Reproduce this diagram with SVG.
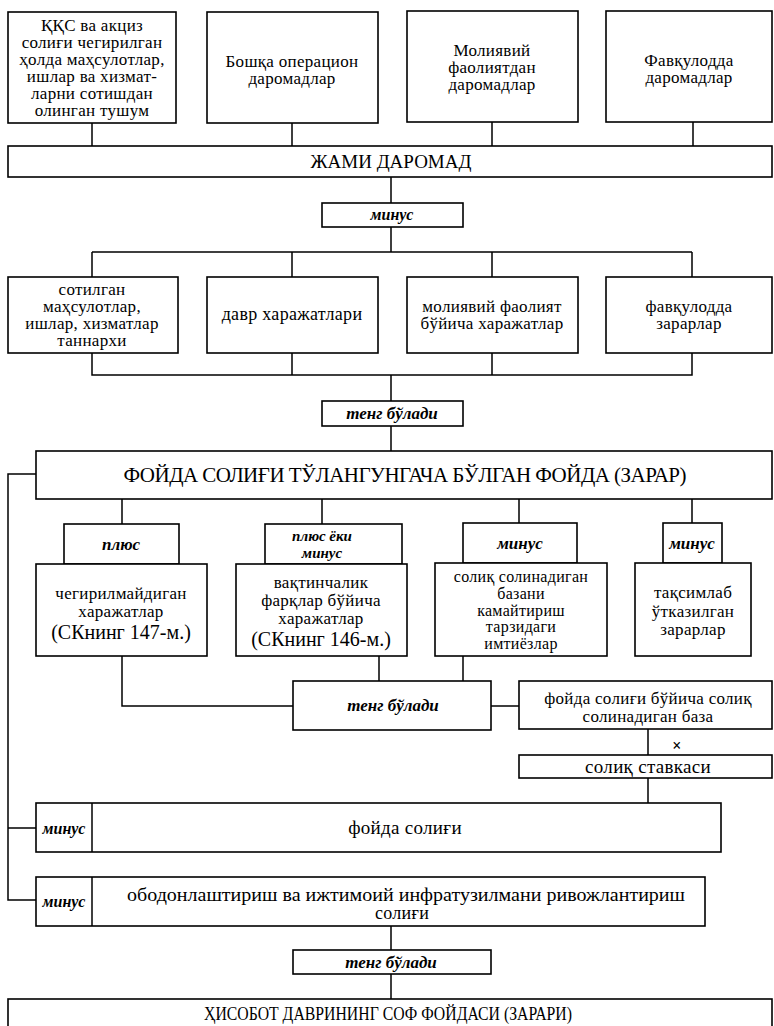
<svg xmlns="http://www.w3.org/2000/svg" width="774" height="1026" viewBox="0 0 774 1026">
<style>
.box{fill:#fff;stroke:#000;stroke-width:1.6}
.ln{fill:none;stroke:#000;stroke-width:1.5}
text{font-family:"Liberation Serif","Times New Roman",serif;font-size:17px;text-anchor:middle;fill:#000;letter-spacing:0.3px}
.cap{font-size:19px;letter-spacing:0}
.it{font-style:italic;font-weight:bold;font-size:16px;letter-spacing:0}
.tg{font-style:italic;font-weight:bold;font-size:17px;letter-spacing:0}
.sm{font-size:16px}
.sk{font-size:20px;letter-spacing:0}
.b{font-weight:bold}
</style>
<rect width="774" height="1026" fill="#fff"/>
<g id="connectors">
<path class="ln" d="M92 123V146M292 123V146M492 122V146M693 122V146"/>
<path class="ln" d="M391 177V203M391 227V252M92 252H692M92 252V277M292 252V277M492 252V277M692 252V277"/>
<path class="ln" d="M92 353V375H692V353M292 353V375M492 353V375M391 375V401M391 426V451"/>
<path class="ln" d="M36 474H8V900H36M8 828H36"/>
<path class="ln" d="M122 499V524M322 499V524M519 499V523M692 499V523"/>
<path class="ln" d="M122 656V706H293M379 656V681M463 656V681M491 706H519"/>
<path class="ln" d="M648 729V755M648 778V803"/>
<path class="ln" d="M391 926V950M391 974V999"/>
</g>
<g id="n-kks"><rect class="box" x="8" y="12" width="168" height="111"/>
<text x="92" y="31">ҚҚС ва акциз</text><text x="92" y="48">солиғи чегирилган</text><text x="92" y="65">ҳолда маҳсулотлар,</text><text x="92" y="82">ишлар ва хизмат-</text><text x="92" y="99">ларни сотишдан</text><text x="92" y="116">олинган тушум</text></g>
<g id="n-boshqa"><rect class="box" x="207" y="12" width="171" height="111"/>
<text x="292" y="67">Бошқа операцион</text><text x="292" y="84">даромадлар</text></g>
<g id="n-moliya"><rect class="box" x="407" y="11" width="171" height="111"/>
<text x="492" y="56">Молиявий</text><text x="492" y="73">фаолиятдан</text><text x="492" y="90">даромадлар</text></g>
<g id="n-favq"><rect class="box" x="606" y="11" width="166" height="111"/>
<text x="689" y="66">Фавқулодда</text><text x="689" y="83">даромадлар</text></g>
<g id="n-jami"><rect class="box" x="8" y="146" width="764" height="31"/>
<text class="cap" x="391" y="168">ЖАМИ ДАРОМАД</text></g>
<g id="n-minus1"><rect class="box" x="322" y="203" width="141" height="24"/>
<text class="it" x="392" y="220">минус</text></g>
<g id="n-tannarx"><rect class="box" x="8" y="277" width="170" height="76"/>
<text x="92" y="295">сотилган</text><text x="92" y="312">маҳсулотлар,</text><text x="92" y="329">ишлар, хизматлар</text><text x="92" y="346">таннархи</text></g>
<g id="n-davr"><rect class="box" x="207" y="277" width="171" height="76"/>
<text x="292" y="320" style="font-size:18px">давр харажатлари</text></g>
<g id="n-molxar"><rect class="box" x="407" y="277" width="171" height="76"/>
<text x="492" y="312">молиявий фаолият</text><text x="492" y="329">бўйича харажатлар</text></g>
<g id="n-favqzar"><rect class="box" x="606" y="277" width="166" height="76"/>
<text x="689" y="312">фавқулодда</text><text x="689" y="329">зарарлар</text></g>
<g id="n-teng1"><rect class="box" x="322" y="401" width="141" height="25"/>
<text class="tg" x="392" y="419">тенг бўлади</text></g>
<g id="n-foyda"><rect class="box" x="36" y="451" width="736" height="48"/>
<text class="cap" x="405" y="482" style="font-size:21px" textLength="563" lengthAdjust="spacing">ФОЙДА СОЛИҒИ ТЎЛАНГУНГАЧА БЎЛГАН ФОЙДА (ЗАРАР)</text></g>
<g id="n-plus"><rect class="box" x="64" y="524" width="115" height="40"/>
<text class="tg" x="121" y="550">плюс</text></g>
<g id="n-plusminus"><rect class="box" x="265" y="524" width="137" height="40"/>
<text class="it" x="322" y="541" style="font-size:15px">плюс ёки</text><text class="it" x="322" y="558" style="font-size:15px">минус</text></g>
<g id="n-minus3"><rect class="box" x="463" y="523" width="114" height="40"/>
<text class="tg" x="520" y="549">минус</text></g>
<g id="n-minus4"><rect class="box" x="663" y="523" width="59" height="40"/>
<text class="tg" x="692" y="549">минус</text></g>
<g id="n-chegir"><rect class="box" x="36" y="564" width="171" height="92"/>
<text x="121" y="599">чегирилмайдиган</text><text x="121" y="617">харажатлар</text><text class="sk" x="121" y="639">(СКнинг 147-м.)</text></g>
<g id="n-vaqt"><rect class="box" x="236" y="564" width="171" height="92"/>
<text x="321" y="588">вақтинчалик</text><text x="321" y="606">фарқлар бўйича</text><text x="321" y="624">харажатлар</text><text class="sk" x="321" y="646">(СКнинг 146-м.)</text></g>
<g id="n-soliq"><rect class="box" x="435" y="563" width="172" height="93"/>
<text class="sm" x="521" y="582">солиқ солинадиган</text><text class="sm" x="521" y="599">базани</text><text class="sm" x="521" y="615.5">камайтириш</text><text class="sm" x="521" y="632">тарзидаги</text><text class="sm" x="521" y="649">имтиёзлар</text></g>
<g id="n-taqsim"><rect class="box" x="635" y="563" width="116" height="93"/>
<text x="693" y="598">тақсимлаб</text><text x="693" y="617">ўтказилган</text><text x="693" y="635">зарарлар</text></g>
<g id="n-teng2"><rect class="box" x="293" y="681" width="198" height="49"/>
<text class="tg" x="393" y="711">тенг бўлади</text></g>
<g id="n-baza"><rect class="box" x="519" y="681" width="253" height="48"/>
<text x="648" y="704">фойда солиғи бўйича солиқ</text><text x="648" y="722">солинадиган база</text></g>
<text class="b" x="677" y="751" style="font-size:16px">×</text>
<g id="n-stavka"><rect class="box" x="519" y="755" width="253" height="23"/>
<text x="648" y="773" style="font-size:19px">солиқ ставкаси</text></g>
<g id="n-foydasol"><rect class="box" x="36" y="803" width="685" height="49"/><path class="ln" d="M92 803V852"/>
<text class="it" x="64" y="834">минус</text><text x="405" y="834" style="font-size:19px">фойда солиғи</text></g>
<g id="n-obod"><rect class="box" x="36" y="877" width="669" height="49"/><path class="ln" d="M92 877V926"/>
<text class="it" x="64" y="907">минус</text><text x="406" y="901" style="font-size:18px;letter-spacing:0" textLength="558" lengthAdjust="spacingAndGlyphs">ободонлаштириш ва ижтимоий инфратузилмани ривожлантириш</text><text x="402" y="919" style="font-size:18px">солиғи</text></g>
<g id="n-teng3"><rect class="box" x="293" y="950" width="198" height="24"/>
<text class="tg" x="391" y="968">тенг бўлади</text></g>
<g id="n-hisobot"><rect class="box" x="8" y="999" width="764" height="40"/>
<text class="cap" x="388" y="1020" style="font-size:19px" textLength="368" lengthAdjust="spacingAndGlyphs">ҲИСОБОТ ДАВРИНИНГ СОФ ФОЙДАСИ (ЗАРАРИ)</text></g>
</svg>
